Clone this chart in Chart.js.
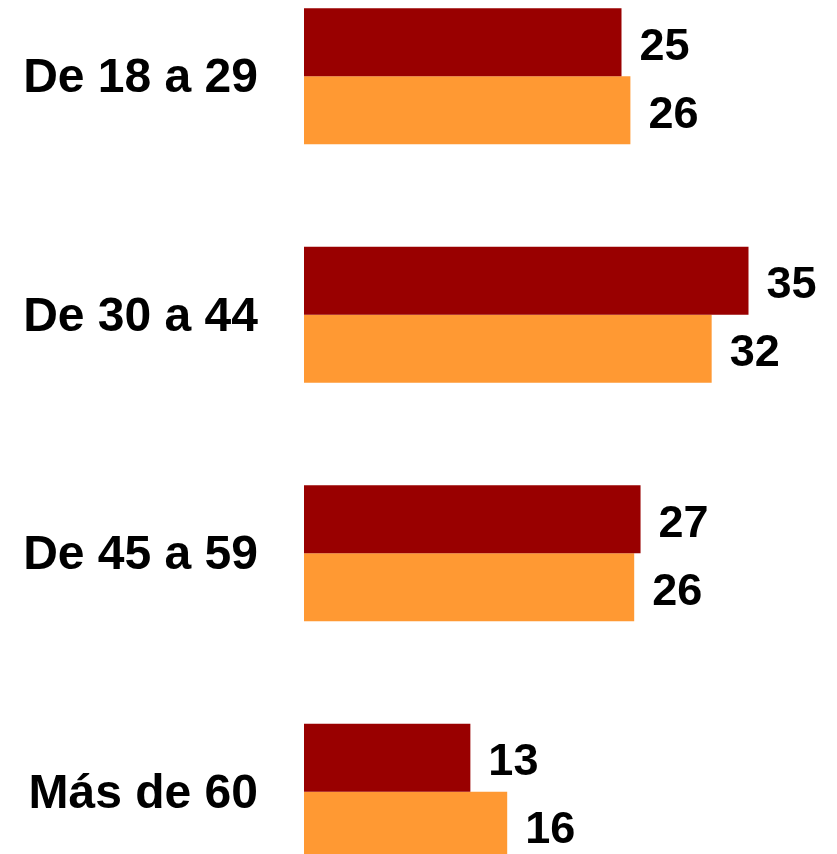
<!DOCTYPE html>
<html>
<head>
<meta charset="utf-8">
<script src="https://cdn.jsdelivr.net/npm/chart.js@4/dist/chart.umd.min.js"></script>
<style>
  html, body { margin: 0; padding: 0; background: #fff; overflow: hidden; }
  #marco { position: relative; width: 837px; height: 854px; overflow: hidden; }
  /* the plot runs past the top and bottom of the picture, as in the original */
  #wrap { position: absolute; left: 0; top: -43px; width: 837px; height: 954px; }
</style>
</head>
<body>
<div id="marco"><div id="wrap"><canvas id="grupos"></canvas></div></div>
<script>
'use strict';

// data
const edades = ['De 18 a 29', 'De 30 a 44', 'De 45 a 59', 'Más de 60'];
const serieRoja = [25.0, 35.0, 26.5, 13.1];
const serieNaranja = [25.7, 32.1, 26.0, 16.0];

const rojo = '#990000';
const naranja = '#FF9933';
const fuente = '"Liberation Sans", Arial, sans-serif';

// draws the number to the right of every bar
const etiquetas = {
  id: 'etiquetas',
  afterDatasetsDraw(chart) {
    const ctx = chart.ctx;
    ctx.save();
    ctx.font = 'bold 45px ' + fuente;
    ctx.fillStyle = '#000';
    ctx.textAlign = 'left';
    ctx.textBaseline = 'middle';
    chart.data.datasets.forEach((ds, i) => {
      chart.getDatasetMeta(i).data.forEach((bar, j) => {
        ctx.fillText(String(Math.round(ds.data[j])), bar.x + 18, bar.y + 5);
      });
    });
    ctx.restore();
  }
};

new Chart(document.getElementById('grupos'), {
  type: 'bar',
  data: {
    labels: edades,
    datasets: [
      { data: serieRoja, backgroundColor: rojo },
      { data: serieNaranja, backgroundColor: naranja }
    ]
  },
  options: {
    indexAxis: 'y',
    responsive: true,
    maintainAspectRatio: false,
    animation: false,
    layout: { padding: { top: 0, bottom: 0, left: 0, right: 25 } },
    datasets: {
      bar: { categoryPercentage: 0.57, barPercentage: 1.0 }
    },
    plugins: {
      legend: { display: false },
      tooltip: { enabled: false }
    },
    scales: {
      x: { display: false, min: 0, max: 40 },
      y: {
        grid: { display: false, drawTicks: false },
        border: { display: false },
        afterFit(scale) {
          scale.width = 304;
          scale.paddingTop = 0;
          scale.paddingBottom = 0;
        },
        ticks: {
          padding: 46,
          labelOffset: 3,
          color: '#000',
          font: { family: fuente, size: 48, weight: 'bold' }
        }
      }
    }
  },
  plugins: [etiquetas]
});
</script>
</body>
</html>
